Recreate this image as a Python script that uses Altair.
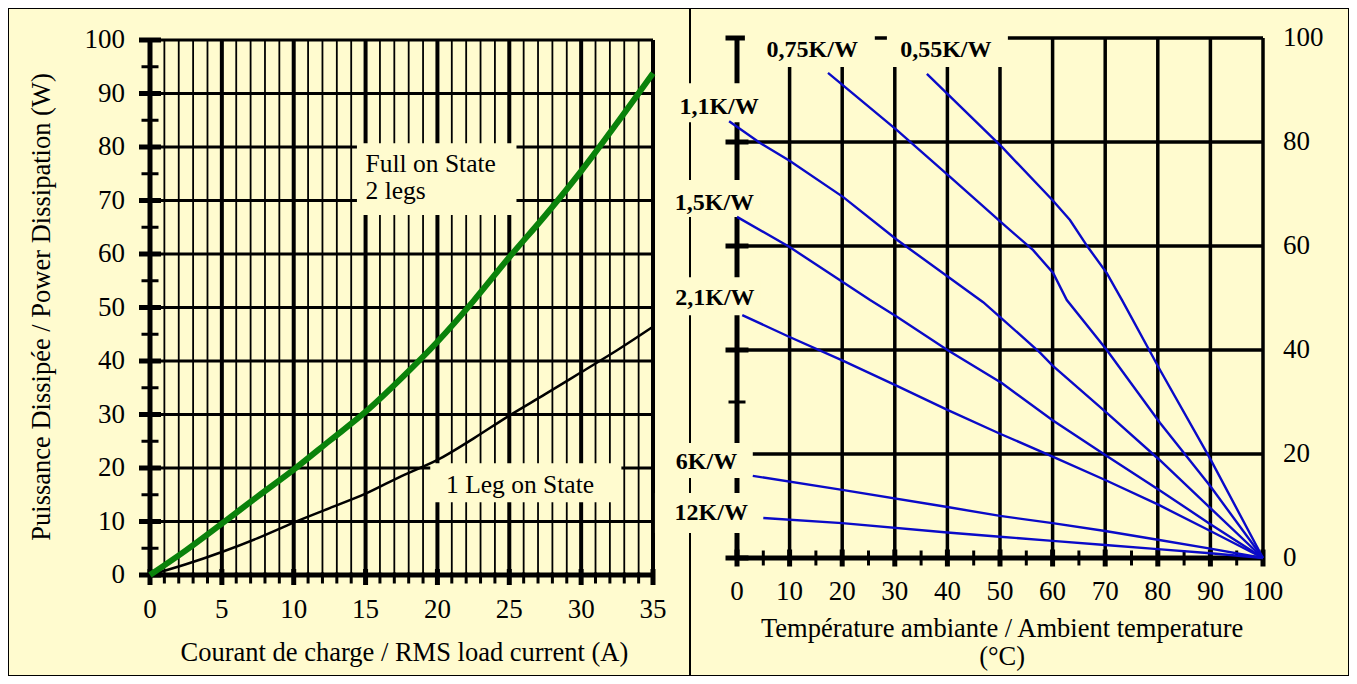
import altair as alt
import pandas as pd

BG = "#FFFBCF"
SERIF = "Liberation Serif"
BLUE = "#0A0AC8"
GREEN = "#0A820A"
W_TOTAL, H_TOTAL = 1341, 668

# ---------------- left panel : power vs current ----------------
current_a = [0, 2.5, 5, 7.5, 10, 12.5, 15, 17.5, 20, 22.5, 25, 27.5, 30, 32.5, 35]
full_on_w = [0, 4.6, 9.6, 14.7, 19.7, 25.1, 30.5, 36.8, 43.6, 51.2, 59.4, 67.2, 75.5, 84.5, 93.8]
one_leg_w = [0, 2.0, 4.3, 6.9, 9.8, 12.5, 15.2, 18.5, 21.5, 25.5, 29.8, 33.8, 37.9, 42.0, 46.4]

left_x_domain = [0, 35]
left_y_domain = [0, 100]
left_x_major = [0, 5, 10, 15, 20, 25, 30, 35]
left_x_minor = [1, 2, 3, 4, 6, 7, 8, 9, 11, 12, 13, 14, 16, 17, 18, 19, 21, 22, 23, 24,
                26, 27, 28, 29, 31, 32, 33, 34]
left_y_major = [0, 10, 20, 30, 40, 50, 60, 70, 80, 90, 100]
left_y_minor = [5, 15, 25, 35, 45, 55, 65, 75, 85, 95]

left_x_title = ["Courant de charge / RMS load current (A)"]
left_x_title_a, left_x_title_w = [17.7], [-14.6]
left_y_title = ["Puissance Dissipée / Power Dissipation (W)"]
left_y_title_a, left_y_title_w = [-7.5], [50.1]

left_texts = ["Full on State", "2 legs"]
left_text_a = [15.0, 15.0]
left_text_w = [76.8, 71.8]
leg1_text = ["1 Leg on State"]
leg1_a = [25.75]
leg1_w = [16.8]
left_box_a0 = [14.4, 19.5]
left_box_a1 = [25.5, 32.8]
left_box_w0 = [67.3, 13.6]
left_box_w1 = [80.7, 20.9]

# ---------------- right panel : derating lines ----------------
right_x_domain = [0, 100]
right_y_domain = [0, 100]
right_x_major = [0, 10, 20, 30, 40, 50, 60, 70, 80, 90, 100]
right_x_minor = [5, 15, 25, 35, 45, 55, 65, 75, 85, 95]
right_y_major = [0, 20, 40, 60, 80, 100]
right_y_minor = [10, 30, 50, 70, 90]

right_x_title = ["Température ambiante / Ambient temperature", "(°C)"]
right_x_title_t = [50.4, 50.4]
right_x_title_p = [-13.7, -19.1]

rth_055_t = [36.1, 50.4, 60.0, 63.3, 66.7, 70.3, 73.2, 80.4, 90.0, 100]
rth_055_p = [93.1, 79.0, 68.8, 65.0, 59.8, 54.8, 49.6, 36.2, 19.0, 0]
rth_075_t = [17.3, 30.4, 40.5, 50.4, 56.3, 60.1, 62.7, 70.3, 80.4, 90.0, 100]
rth_075_p = [93.3, 82.3, 73.3, 64.4, 59.2, 54.8, 49.6, 40.0, 26.0, 13.8, 0]
rth_11_t = [-1.5, 4.4, 10, 20.2, 30.4, 46.8, 50.4, 57.6, 60, 70.3, 80.4, 90, 100]
rth_11_p = [84.0, 79.8, 76.4, 69.4, 61.2, 49.2, 46.0, 39.5, 37.0, 27.9, 18.8, 9.6, 0]
rth_15_t = [0, 10, 25.3, 30.4, 40, 50.4, 60, 70.3, 80.4, 90, 100]
rth_15_p = [65.6, 59.8, 49.6, 46.4, 40.0, 33.6, 26.5, 19.6, 13.0, 6.5, 0]
rth_21_t = [1, 10, 20, 30, 40, 50, 60, 70, 80, 90, 100]
rth_21_p = [46.7, 42.5, 38.0, 33.3, 28.5, 23.9, 19.5, 15.0, 10.3, 5.2, 0]
rth_6_t = [3, 20, 40, 50, 60, 70, 80, 90, 100]
rth_6_p = [15.8, 13.1, 9.8, 8.1, 6.7, 5.2, 3.5, 1.8, 0]
rth_12_t = [5, 20, 40, 50, 60, 70, 80, 90, 100]
rth_12_p = [7.7, 6.7, 4.9, 4.1, 3.3, 2.5, 1.7, 0.9, 0]

rth_names = ["0,75K/W", "0,55K/W", "1,1K/W", "1,5K/W", "2,1K/W", "6K/W", "12K/W"]
rth_label_t = [14.3, 39.7, -3.4, -4.3, -4.2, -5.8, -4.9]
rth_label_p = [97.7, 97.7, 86.7, 68.3, 50.0, 18.5, 8.7]
rth_box_t0 = [1.5, 28.5, -13.0, -14.3, -14.3, -14.0, -15.6]
rth_box_t1 = [26.2, 51.5, 5.3, 4.4, 4.4, 3.0, 4.8]
rth_box_p0 = [94.4, 94.4, 83.8, 65.6, 46.7, 15.4, 4.8]
rth_box_p1 = [102.0, 102.0, 91.3, 72.7, 54.0, 22.1, 12.5]

# ---------------- scales (pixel ranges place the two panels) ----------------
sxL = alt.Scale(domain=left_x_domain, range=[142, 645], nice=False, zero=False)
syL = alt.Scale(domain=left_y_domain, range=[567, 32], nice=False, zero=False)
sxR = alt.Scale(domain=right_x_domain, range=[729, 1255], nice=False, zero=False)
syR = alt.Scale(domain=right_y_domain, range=[550, 30], nice=False, zero=False)


def Q(ch, field, scale):
    return ch(field, type="quantitative", scale=scale, axis=None)


def vrules(vals, lo, hi, sx, sy, width):
    df = pd.DataFrame({"x": vals, "lo": lo, "hi": hi})
    return alt.Chart(df).mark_rule(color="black", strokeWidth=width).encode(
        x=Q(alt.X, "x", sx), y=Q(alt.Y, "lo", sy), y2="hi")


def hrules(vals, lo, hi, sx, sy, width):
    df = pd.DataFrame({"y": vals, "lo": lo, "hi": hi})
    return alt.Chart(df).mark_rule(color="black", strokeWidth=width).encode(
        y=Q(alt.Y, "y", sy), x=Q(alt.X, "lo", sx), x2="hi")


def ticks(xs, ys, sx, sy, orient, size, thick, yoff=0):
    df = pd.DataFrame({"x": xs, "y": ys})
    return alt.Chart(df).mark_tick(color="black", orient=orient, size=size,
                                   thickness=thick, opacity=1, yOffset=yoff).encode(
        x=Q(alt.X, "x", sx), y=Q(alt.Y, "y", sy))


def boxes(x0, x1, y0, y1, sx, sy):
    df = pd.DataFrame({"x0": x0, "x1": x1, "y0": y0, "y1": y1})
    return alt.Chart(df).mark_rect(color=BG, opacity=1).encode(
        x=Q(alt.X, "x0", sx), x2="x1", y=Q(alt.Y, "y0", sy), y2="y1")


def num_labels(xs, ys, vals, sx, sy, **kw):
    df = pd.DataFrame({"x": xs, "y": ys, "v": vals})
    return alt.Chart(df).mark_text(font=SERIF, fontSize=27, color="black", **kw).encode(
        x=Q(alt.X, "x", sx), y=Q(alt.Y, "y", sy), text=alt.Text("v:Q", format="d"))


def texts(labels, xs, ys, sx, sy, **kw):
    df = pd.DataFrame({"t": labels, "x": xs, "y": ys})
    return alt.Chart(df).mark_text(font=SERIF, color="black", **kw).encode(
        x=Q(alt.X, "x", sx), y=Q(alt.Y, "y", sy), text="t:N")


# ---------------- left panel ----------------
curves = pd.DataFrame({"a": current_a, "full": full_on_w, "one": one_leg_w})
green = alt.Chart(curves).mark_line(color=GREEN, strokeWidth=6, interpolate="monotone").encode(
    x=Q(alt.X, "a", sxL), y=Q(alt.Y, "full", syL))
black = alt.Chart(curves).mark_line(color="black", strokeWidth=2.5, interpolate="monotone").encode(
    x=Q(alt.X, "a", sxL), y=Q(alt.Y, "one", syL))

left = alt.layer(
    vrules(left_x_minor, left_y_domain[0], left_y_domain[1], sxL, syL, 1.8),
    vrules(left_x_major[1:], left_y_domain[0], left_y_domain[1], sxL, syL, 4),
    hrules(left_y_major[1:], left_x_domain[0], left_x_domain[1], sxL, syL, 3),
    vrules([0], left_y_domain[0], left_y_domain[1], sxL, syL, 5),
    hrules([0], left_x_domain[0], left_x_domain[1], sxL, syL, 5),
    ticks([0] * len(left_y_major), left_y_major, sxL, syL, "horizontal", 22, 5),
    ticks([0] * len(left_y_minor), left_y_minor, sxL, syL, "horizontal", 17, 3),
    ticks(left_x_major, [0] * len(left_x_major), sxL, syL, "vertical", 16, 5, 2),
    ticks(left_x_minor, [0] * len(left_x_minor), sxL, syL, "vertical", 11, 3, 3),
    num_labels([0] * len(left_y_major), left_y_major, left_y_major, sxL, syL,
               align="right", baseline="middle", dx=-25),
    num_labels(left_x_major, [0] * len(left_x_major), left_x_major, sxL, syL,
               align="center", baseline="middle", dy=35),
    texts(left_x_title, left_x_title_a, left_x_title_w, sxL, syL, fontSize=26.5,
          align="center", baseline="middle"),
    texts(left_y_title, left_y_title_a, left_y_title_w, sxL, syL, fontSize=26.5,
          align="center", baseline="middle", angle=270),
    boxes(left_box_a0, left_box_a1, left_box_w0, left_box_w1, sxL, syL),
    texts(left_texts, left_text_a, left_text_w, sxL, syL, fontSize=25.5,
          align="left", baseline="middle"),
    texts(leg1_text, leg1_a, leg1_w, sxL, syL, fontSize=25.5,
          align="center", baseline="middle"),
    black, green,
)

# ---------------- right panel ----------------
series = []
for name, ts, ps in [("0,55", rth_055_t, rth_055_p), ("0,75", rth_075_t, rth_075_p),
                     ("1,1", rth_11_t, rth_11_p), ("1,5", rth_15_t, rth_15_p),
                     ("2,1", rth_21_t, rth_21_p), ("6", rth_6_t, rth_6_p),
                     ("12", rth_12_t, rth_12_p)]:
    series.append(pd.DataFrame({"t": ts, "p": ps, "rth": name}))
lines_df = pd.concat(series, ignore_index=True)

blue = alt.Chart(lines_df).mark_line(color=BLUE, strokeWidth=2.4).encode(
    x=Q(alt.X, "t", sxR), y=Q(alt.Y, "p", syR), detail="rth:N")

right = alt.layer(
    vrules(right_x_major[1:], right_y_domain[0], right_y_domain[1], sxR, syR, 3.5),
    hrules(right_y_major[1:], right_x_domain[0], right_x_domain[1], sxR, syR, 3.5),
    vrules([0], right_y_domain[0], right_y_domain[1], sxR, syR, 5),
    hrules([0], right_x_domain[0], right_x_domain[1], sxR, syR, 5),
    ticks([0] * len(right_y_major), right_y_major, sxR, syR, "horizontal", 23, 5),
    ticks([0] * len(right_y_minor), right_y_minor, sxR, syR, "horizontal", 17, 3),
    ticks(right_x_major, [0] * len(right_x_major), sxR, syR, "vertical", 17, 5),
    ticks(right_x_minor, [0] * len(right_x_minor), sxR, syR, "vertical", 15, 3),
    num_labels([100] * len(right_y_major), right_y_major, right_y_major, sxR, syR,
               align="left", baseline="middle", dx=20),
    num_labels(right_x_major, [0] * len(right_x_major), right_x_major, sxR, syR,
               align="center", baseline="middle", dy=34),
    texts(right_x_title, right_x_title_t, right_x_title_p, sxR, syR, fontSize=26.5,
          align="center", baseline="middle"),
    boxes(rth_box_t0, rth_box_t1, rth_box_p0, rth_box_p1, sxR, syR),
    texts(rth_names, rth_label_t, rth_label_p, sxR, syR, fontSize=24, fontWeight="bold",
          align="center", baseline="middle"),
    blue,
)

# panel separator (decoration)
divider = alt.Chart(pd.DataFrame({"k": [0]})).mark_rule(color="black", strokeWidth=2).encode(
    x=alt.value(682), y=alt.value(0), y2=alt.value(H_TOTAL))

chart = alt.layer(divider, left, right).resolve_scale(
    x="independent", y="independent"
).properties(
    width=W_TOTAL, height=H_TOTAL, padding=0, background="white",
    autosize=alt.AutoSizeParams(type="none"),
).configure_view(fill=BG, stroke="black", strokeWidth=2)

chart.save("out.html", embed_options={"renderer": "svg", "actions": False})
